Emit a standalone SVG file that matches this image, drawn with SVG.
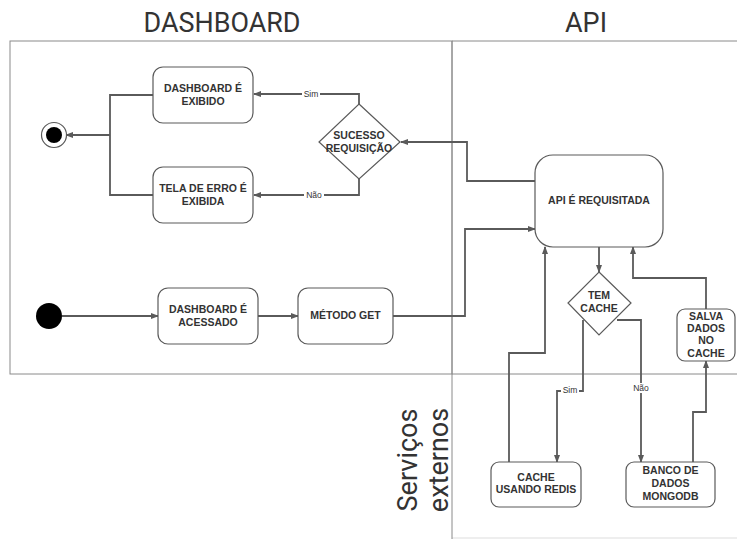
<svg xmlns="http://www.w3.org/2000/svg" width="737" height="539" viewBox="0 0 737 539">
<defs>
<marker id="arr" markerWidth="8" markerHeight="8" refX="7" refY="4" orient="auto" markerUnits="userSpaceOnUse">
<path d="M0,1 L8,4 L0,7 Z" fill="#5a5a5a"/>
</marker>
<style>
.frame{fill:none;stroke:#8a8a8a;stroke-width:1}
.title{font-family:Roboto,"Liberation Sans",sans-serif;font-size:27px;fill:#333;text-anchor:middle}
.node{fill:#fff;stroke:#5a5a5a;stroke-width:1.2}
.t{font-family:"Liberation Sans",Arial,sans-serif;font-weight:bold;font-size:10.5px;fill:#333;text-anchor:middle}
.c{fill:none;stroke:#5a5a5a;stroke-width:1.8}
.ca{fill:none;stroke:#5a5a5a;stroke-width:1.8;marker-end:url(#arr)}
.lbl{font-family:"Liberation Sans",Arial,sans-serif;font-size:8.5px;fill:#333;text-anchor:middle}
.lblbg{fill:#fff}
</style>
</defs>
<rect width="737" height="539" fill="#fff"/>
<g id="lanes">
<rect class="frame" x="10" y="41" width="442" height="333"/>
<line class="frame" x1="452" y1="41" x2="452" y2="539"/>
<line class="frame" x1="452" y1="41" x2="737" y2="41"/>
<line class="frame" x1="452" y1="374" x2="737" y2="374"/>
<line class="frame" x1="452" y1="538" x2="737" y2="538" stroke-opacity="0.3"/>
<text class="title" x="222" y="32" textLength="157" lengthAdjust="spacingAndGlyphs">DASHBOARD</text>
<text class="title" x="586" y="32">API</text>
<text class="title" transform="translate(417,460) rotate(-90)">Serviços</text>
<text class="title" transform="translate(448,460) rotate(-90)">externos</text>
</g>
<g id="connectors">
<path class="ca" d="M62,316 H158"/>
<path class="ca" d="M258,316 H298"/>
<path class="ca" d="M393,316 H465 V229 H535"/>
<path class="ca" d="M535,181 H467 V142 H401"/>
<path class="ca" d="M359,104 V94 H254"/>
<path class="ca" d="M359,179 V195 H254"/>
<path class="c" d="M153,95 H110 V195 H153"/>
<path class="ca" d="M110,135 H66"/>
<path class="ca" d="M599,247 V272"/>
<path class="ca" d="M583,320 V391 H557 V462"/>
<path class="ca" d="M617,320 H641 V462"/>
<path class="ca" d="M509,462 V353 H545 V247"/>
<path class="ca" d="M693,462 V412 H706 V361"/>
<path class="ca" d="M706,309 V278 H633 V247"/>
<rect class="lblbg" x="302" y="89" width="18" height="10"/>
<text class="lbl" x="311" y="97">Sim</text>
<rect class="lblbg" x="304" y="190" width="20" height="10"/>
<text class="lbl" x="314" y="198">Não</text>
<rect class="lblbg" x="561" y="385" width="18" height="10"/>
<text class="lbl" x="570" y="393">Sim</text>
<rect class="lblbg" x="631" y="383" width="20" height="10"/>
<text class="lbl" x="641" y="391">Não</text>
</g>
<g id="start">
<circle cx="49" cy="316" r="13" fill="#000"/>
</g>
<g id="end">
<circle cx="54" cy="135" r="12.5" fill="#fff" stroke="#5a5a5a" stroke-width="1.2"/>
<circle cx="54" cy="135" r="8" fill="#000"/>
</g>
<g id="dashboard-acessado">
<rect class="node" x="158" y="288" width="100" height="56" rx="10"/>
<text class="t" x="208" y="313">DASHBOARD É</text>
<text class="t" x="208" y="326">ACESSADO</text>
</g>
<g id="metodo-get">
<rect class="node" x="298" y="288" width="95" height="56" rx="10"/>
<text class="t" x="345.5" y="319">MÉTODO GET</text>
</g>
<g id="sucesso-requisicao">
<polygon class="node" points="359,104 400,142 359,179 319,142"/>
<text class="t" x="359" y="139">SUCESSO</text>
<text class="t" x="359" y="152">REQUISIÇÃO</text>
</g>
<g id="dashboard-exibido">
<rect class="node" x="153" y="67" width="100" height="56" rx="10"/>
<text class="t" x="203" y="92">DASHBOARD É</text>
<text class="t" x="203" y="105">EXIBIDO</text>
</g>
<g id="tela-erro">
<rect class="node" x="153" y="167" width="100" height="56" rx="10"/>
<text class="t" x="203" y="192">TELA DE ERRO É</text>
<text class="t" x="203" y="205">EXIBIDA</text>
</g>
<g id="api-requisitada">
<rect class="node" x="535" y="155" width="128" height="92" rx="18"/>
<text class="t" x="599" y="204">API É REQUISITADA</text>
</g>
<g id="tem-cache">
<polygon class="node" points="599,272 631,303 599,335 568,303"/>
<text class="t" x="599" y="299">TEM</text>
<text class="t" x="599" y="312">CACHE</text>
</g>
<g id="salva-dados">
<rect class="node" x="677" y="309" width="58" height="52" rx="8"/>
<text class="t" x="706" y="320">SALVA</text>
<text class="t" x="706" y="332">DADOS</text>
<text class="t" x="706" y="344">NO</text>
<text class="t" x="706" y="357">CACHE</text>
</g>
<g id="cache-redis">
<rect class="node" x="491" y="462" width="90" height="45" rx="8"/>
<text class="t" x="536" y="481">CACHE</text>
<text class="t" x="536" y="493">USANDO REDIS</text>
</g>
<g id="mongodb">
<rect class="node" x="626" y="462" width="89" height="45" rx="8"/>
<text class="t" x="670.5" y="474">BANCO DE</text>
<text class="t" x="670.5" y="487">DADOS</text>
<text class="t" x="670.5" y="500">MONGODB</text>
</g>
</svg>
